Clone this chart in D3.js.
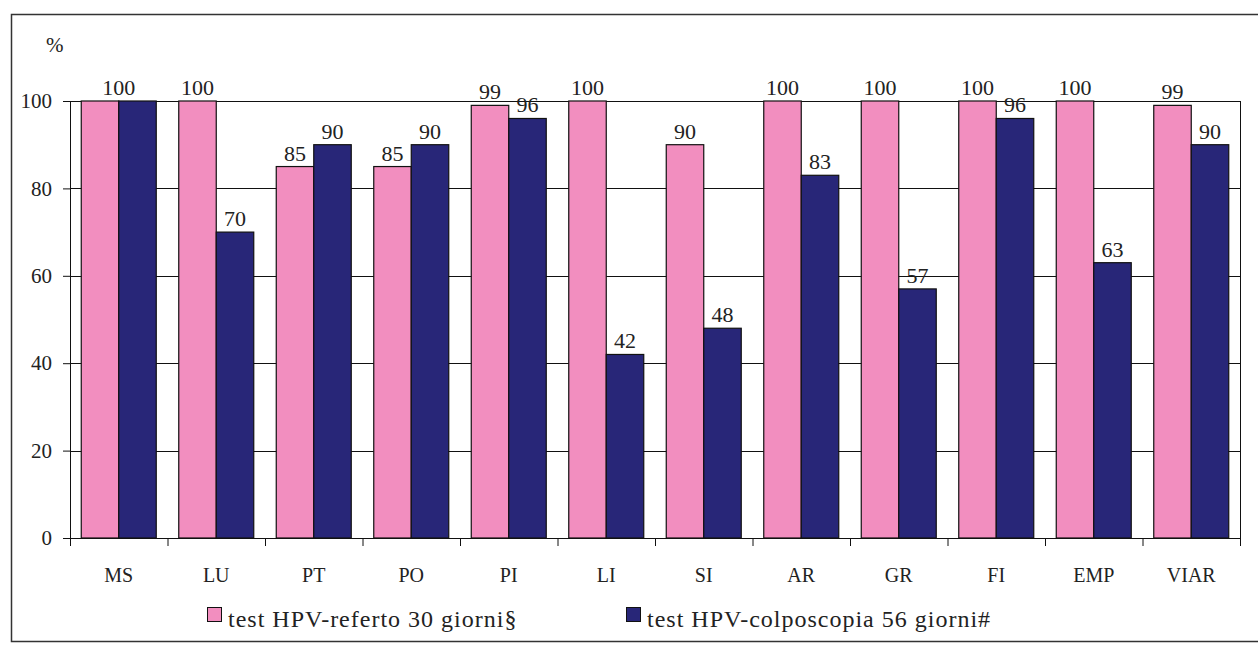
<!DOCTYPE html>
<html>
<head>
<meta charset="utf-8">
<script src="https://cdn.jsdelivr.net/npm/d3@7"></script>
<style>
  html, body { margin: 0; padding: 0; background: #fff; }
  svg { display: block; }
</style>
</head>
<body>
<svg id="chart" width="1258" height="648"></svg>
<script>
// Areas (ASL) along the x axis
const categories = ["MS", "LU", "PT", "PO", "PI", "LI", "SI", "AR", "GR", "FI", "EMP", "VIAR"];
// % of HPV tests with report within 30 days
const referto30 = [100, 100, 85, 85, 99, 100, 90, 100, 100, 100, 100, 99];
// % of HPV tests followed by colposcopy within 56 days
const colposcopia56 = [100, 70, 90, 90, 96, 42, 48, 83, 57, 96, 63, 90];
const seriesNames = ["test HPV-referto 30 giorni§", "test HPV-colposcopia 56 giorni#"];
const yTicks = [0, 20, 40, 60, 80, 100];

const colors = ["#F28EBF", "#282678"];
const seriesValues = [referto30, colposcopia56];
const FONT = '"Liberation Serif", "Times New Roman", serif';
const INK = "#222";

const svg = d3.select("#chart");

// outer frame
svg.append("rect")
  .attr("x", 11.5).attr("y", 14.5)
  .attr("width", 1260).attr("height", 627)
  .attr("fill", "none").attr("stroke", "#333").attr("stroke-width", 1.5);

const plot = { left: 70, right: 1240, top: 101, bottom: 538 };

const x = d3.scaleBand().domain(categories).range([plot.left, plot.right]).paddingInner(0).paddingOuter(0);
const inner = d3.scaleBand().domain([0, 1]).range([0, x.bandwidth()]).paddingInner(0).paddingOuter(0.3);
const y = d3.scaleLinear().domain([0, 100]).range([plot.bottom, plot.top]);

// horizontal grid lines
svg.append("g").selectAll("line").data(yTicks.filter(d => d > 0)).join("line")
  .attr("x1", plot.left).attr("x2", plot.right)
  .attr("y1", d => Math.round(y(d)) + 0.5).attr("y2", d => Math.round(y(d)) + 0.5)
  .attr("stroke", "#111").attr("stroke-width", 1);

// right border of the plot area
svg.append("line")
  .attr("x1", plot.right + 0.5).attr("x2", plot.right + 0.5)
  .attr("y1", plot.top).attr("y2", plot.bottom + 8)
  .attr("stroke", "#111");

// bars
const groups = svg.append("g").selectAll("g").data(categories).join("g")
  .attr("transform", d => `translate(${x(d)},0)`);

const cells = (c, i) => seriesValues.map((s, k) => ({ k, v: s[i] }));

groups.selectAll("rect").data(cells).join("rect")
  .attr("x", d => inner(d.k))
  .attr("y", d => y(d.v))
  .attr("width", inner.bandwidth())
  .attr("height", d => y(0) - y(d.v))
  .attr("fill", d => colors[d.k])
  .attr("stroke", "#111").attr("stroke-width", 1.2);

// value labels; when both bars of a group are equal a single label sits over the pair
const labels = (c, i) => {
  const vals = seriesValues.map(s => s[i]);
  if (vals.every(v => v === vals[0])) {
    return [{ cx: x.bandwidth() / 2, v: vals[0] }];
  }
  return vals.map((v, k) => ({ cx: inner(k) + inner.bandwidth() / 2, v }));
};

groups.selectAll("text.val").data(labels).join("text")
  .attr("class", "val")
  .attr("x", d => d.cx)
  .attr("y", d => y(d.v) - 6)
  .attr("text-anchor", "middle")
  .style("font-family", FONT).style("font-size", "22px").style("fill", INK)
  .text(d => d.v);

// y axis
const yAxis = svg.append("g").attr("transform", `translate(${plot.left},0)`)
  .call(d3.axisLeft(y).tickValues(yTicks).tickSize(7).tickPadding(11));
yAxis.select(".domain").attr("stroke", "#111").attr("d", `M0.5,${plot.top}V${plot.bottom}`);
yAxis.selectAll(".tick line").attr("stroke", "#111");
yAxis.selectAll(".tick text")
  .style("font-family", FONT).style("font-size", "21px").style("fill", INK);

// x axis: ticks on category boundaries
const xAxis = svg.append("g").attr("transform", `translate(0,${plot.bottom})`);
xAxis.append("line").attr("x1", plot.left).attr("x2", plot.right)
  .attr("y1", 0.5).attr("y2", 0.5).attr("stroke", "#111");
const boundaries = categories.map(c => x(c)).concat([plot.right]);
xAxis.selectAll("line.tk").data(boundaries).join("line")
  .attr("class", "tk")
  .attr("x1", d => d + 0.5).attr("x2", d => d + 0.5)
  .attr("y1", 0).attr("y2", 8).attr("stroke", "#111");
xAxis.selectAll("text").data(categories).join("text")
  .attr("x", d => x(d) + x.bandwidth() / 2)
  .attr("y", 44)
  .attr("text-anchor", "middle")
  .style("font-family", FONT).style("font-size", "20px").style("fill", INK)
  .text(d => d);

// unit label
svg.append("text").attr("x", 46).attr("y", 52)
  .style("font-family", FONT).style("font-size", "21px").style("fill", INK)
  .text("%");

// legend
const legendX = [207, 626];
const legend = svg.append("g").selectAll("g").data(seriesNames).join("g")
  .attr("transform", (d, i) => `translate(${legendX[i]},607)`);
legend.append("rect").attr("x", 0.5).attr("y", 0.5).attr("width", 14).attr("height", 14)
  .attr("fill", (d, i) => colors[i]).attr("stroke", "#111");
legend.append("text").attr("x", 21).attr("y", 20)
  .style("font-family", FONT).style("font-size", "24px").style("letter-spacing", "1px").style("fill", INK)
  .text(d => d);
</script>
</body>
</html>
